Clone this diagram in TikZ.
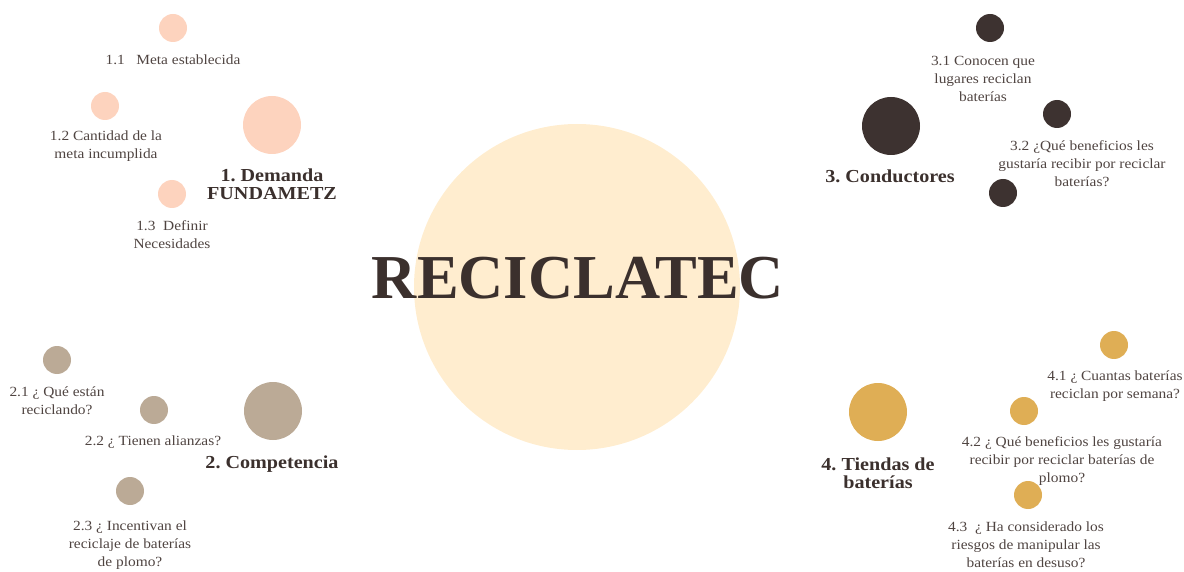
\documentclass[tikz,border=0pt]{standalone}
\usepackage{fontspec}
\setmainfont{Liberation Serif}[FakeStretch=1.1]
\newfontfamily\titlefont{Liberation Serif}
\definecolor{peach}{HTML}{FDD3BE}
\definecolor{darkbr}{HTML}{3D3230}
\definecolor{taupe}{HTML}{BBAA96}
\definecolor{gold}{HTML}{DFAE55}
\definecolor{cream}{HTML}{FFEDCF}
\definecolor{txt}{HTML}{4F4441}
\definecolor{head}{HTML}{3B302D}
\tikzset{
  dot/.style={circle,inner sep=0pt,minimum size=28pt,fill=#1},
  bigdot/.style={circle,inner sep=0pt,minimum size=58pt,fill=#1},
  lbl/.style={align=center,inner sep=0pt,text=txt,font=\frenchspacing\fontsize{14}{18}\selectfont},
  hd/.style={align=center,inner sep=0pt,text=head,font=\frenchspacing\fontsize{18.3}{18}\selectfont\bfseries},
}
\begin{document}
\begin{tikzpicture}[x=1pt,y=-1pt]
\useasboundingbox (0,0) rectangle (1184,572);
% centre
\node[circle,inner sep=0pt,minimum size=326pt,fill=cream] (c) at (577,287) {};
\node[text=head,inner sep=0pt,font=\titlefont\fontsize{62.5}{62}\selectfont\bfseries] (title) at (578,278) {RECICLATEC};
% group 1
\node[dot=peach] (d11) at (173,28) {};
\node[lbl] (t11) at (173,60) {1.1\ \ \ Meta establecida};
\node[dot=peach] (d12) at (105,106) {};
\node[lbl] (t12) at (106,146) {1.2 Cantidad de la\\meta incumplida};
\node[bigdot=peach] (d1) at (272,125) {};
\node[hd] (t1) at (272,184) {1. Demanda\\FUNDAMETZ};
\node[dot=peach] (d13) at (172,194) {};
\node[lbl] (t13) at (172,235) {1.3\ \ Definir\\Necesidades};
% group 3
\node[dot=darkbr] (d31) at (990,28) {};
\node[lbl] (t31) at (983,79) {3.1 Conocen que\\lugares reciclan\\baterías};
\node[bigdot=darkbr] (d3) at (891,126) {};
\node[hd] (t3) at (890,176) {3. Conductores};
\node[dot=darkbr] (d32) at (1057,114) {};
\node[lbl] (t32) at (1082,164) {3.2 ¿Qué beneficios les\\gustaría recibir por reciclar\\baterías?};
\node[dot=darkbr] (d33) at (1003,193) {};
% group 2
\node[dot=taupe] (d21) at (57,360) {};
\node[lbl] (t21) at (57,401) {2.1 ¿ Qué están\\reciclando?};
\node[dot=taupe] (d22) at (154,410) {};
\node[lbl] (t22) at (153,442) {2.2 ¿ Tienen alianzas?};
\node[bigdot=taupe] (d2) at (273,411) {};
\node[hd] (t2) at (272,464) {2. Competencia};
\node[dot=taupe] (d23) at (130,491) {};
\node[lbl] (t23) at (130,545) {2.3 ¿ Incentivan el\\reciclaje de baterías\\de plomo?};
% group 4
\node[dot=gold] (d41) at (1114,345) {};
\node[lbl] (t41) at (1115,386) {4.1 ¿ Cuantas baterías\\reciclan por semana?};
\node[bigdot=gold] (d4) at (878,412) {};
\node[hd] (t4) at (878,473) {4. Tiendas de\\baterías};
\node[dot=gold] (d42) at (1024,411) {};
\node[lbl] (t42) at (1062,461) {4.2 ¿ Qué beneficios les gustaría\\recibir por reciclar baterías de\\plomo?};
\node[dot=gold] (d43) at (1028,495) {};
\node[lbl] (t43) at (1026,545) {4.3\ \ ¿ Ha considerado los\\riesgos de manipular las\\baterías en desuso?};
\end{tikzpicture}
\end{document}
